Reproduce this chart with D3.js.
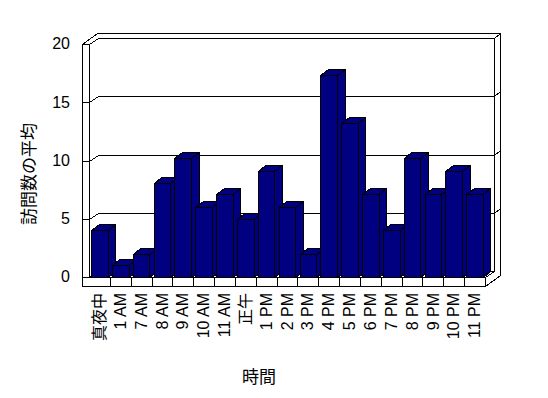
<!DOCTYPE html>
<html>
<head>
<meta charset="utf-8">
<script src="https://cdn.jsdelivr.net/npm/d3@7"></script>
<style>
  body { margin: 0; background: #fff; }
  svg { display: block; }
  text { font-family: "Liberation Sans", "Noto Sans CJK JP", sans-serif; fill: #000; }
</style>
</head>
<body>
<svg id="chart" width="548" height="398"></svg>
<script>
// average visits per hour of day
var categories = ["真夜中", "1 AM", "7 AM", "8 AM", "9 AM", "10 AM", "11 AM", "正午",
  "1 PM", "2 PM", "3 PM", "4 PM", "5 PM", "6 PM", "7 PM", "8 PM", "9 PM", "10 PM", "11 PM"];
var visits = [4, 1, 2, 8.1, 10.2, 6, 7.1, 5, 9.1, 6, 2, 17.3, 13.2, 7.1, 4, 10.2, 7.1, 9.1, 7.1];
var yTicks = [0, 5, 10, 15, 20];
var xTitle = "時間";
var yTitle = "訪問数の平均";

var svg = d3.select("#chart");

var x = d3.scaleBand().domain(categories).range([89, 485]).paddingInner(0.2).paddingOuter(0.1);
var y = d3.scaleLinear().domain([0, 20]).range([277, 44]);

// oblique offsets: wall depth, back wall thickness, bar depth
var wall = { dx: 9, dy: -6 };
var thick = { dx: 6, dy: -5 };
var deep = { dx: 7.5, dy: -6 };

var left = x.range()[0], right = x.range()[1];
var outerLeft = left - 7;
var yTop = y(20), floor = y(0), floorBottom = y(0) + 9;

function px(v) { return Math.round(v) + 0.5; }

function appendPath(onto, pts, closed, fill) {
  var d = "M" + pts.map(function (p) { return px(p[0]) + "," + px(p[1]); }).join("L") + (closed ? "Z" : "");
  onto.append("path")
    .attr("d", d)
    .attr("fill", fill || "none")
    .attr("stroke", "#000")
    .attr("stroke-width", 1)
    .attr("shape-rendering", "crispEdges");
}

var frame = svg.append("g");

// outer silhouette of walls and floor
appendPath(frame, [
  [outerLeft, yTop],
  [outerLeft + wall.dx + thick.dx, yTop + wall.dy + thick.dy],
  [right + wall.dx + thick.dx, yTop + wall.dy + thick.dy],
  [right + wall.dx + thick.dx, floorBottom + wall.dy + thick.dy],
  [right, floorBottom],
  [outerLeft, floorBottom]
], true, "#fff");

// left wall front face and top
appendPath(frame, [[outerLeft, yTop], [left, yTop], [left, floor]]);
appendPath(frame, [[left, yTop], [left + wall.dx, yTop + wall.dy], [right + wall.dx, yTop + wall.dy],
  [right + wall.dx + thick.dx, yTop + wall.dy + thick.dy]]);
appendPath(frame, [[right + wall.dx, yTop + wall.dy], [right + wall.dx, floor + wall.dy]]);

// floor front face and right edge
appendPath(frame, [[outerLeft, floor], [right, floor], [right, floorBottom]]);
appendPath(frame, [[right, floor], [right + wall.dx, floor + wall.dy]]);
appendPath(frame, [[left, floor], [left + wall.dx, floor + wall.dy], [right + wall.dx, floor + wall.dy]]);

// gridlines wrapping the left wall, back wall and its edge
yTicks.filter(function (t) { return t > 0 && t < 20; }).forEach(function (t) {
  var yy = y(t);
  appendPath(frame, [
    [outerLeft, yy], [left, yy],
    [left + wall.dx, yy + wall.dy],
    [right + wall.dx, yy + wall.dy],
    [right + wall.dx + thick.dx, yy + wall.dy + thick.dy]
  ]);
});

// category ticks on the floor front
var gap = (x.step() - x.bandwidth()) / 2;
categories.slice(1).forEach(function (c) {
  var xx = x(c) - gap;
  appendPath(frame, [[xx, floor], [xx, floorBottom]]);
});

// bars, drawn left to right so each front covers the previous side
var bars = svg.append("g");
categories.forEach(function (c, i) {
  var x0 = x(c), x1 = x(c) + x.bandwidth(), yv = y(visits[i]);
  var g = bars.append("g");
  appendPath(g, [[x1, yv], [x1 + deep.dx, yv + deep.dy], [x1 + deep.dx, floor + deep.dy], [x1, floor]], true, "#000080");
  appendPath(g, [[x0, yv], [x0 + deep.dx, yv + deep.dy], [x1 + deep.dx, yv + deep.dy], [x1, yv]], true, "#000080");
  appendPath(g, [[x0, yv], [x1, yv], [x1, floor], [x0, floor]], true, "#000080");
});

// axes (labels only)
var yAxis = svg.append("g")
  .attr("transform", "translate(" + outerLeft + ",0)")
  .call(d3.axisLeft(y).tickValues(yTicks).tickSize(0).tickPadding(12));
yAxis.select(".domain").remove();
yAxis.selectAll("text")
  .attr("dy", "0.3em")
  .style("font-size", "16px")
  .style("font-family", "'Liberation Sans', 'Noto Sans CJK JP', sans-serif");

var xAxis = svg.append("g")
  .attr("transform", "translate(0," + floorBottom + ")")
  .call(d3.axisBottom(x).tickSize(0));
xAxis.select(".domain").remove();
xAxis.selectAll("text")
  .attr("transform", "rotate(-90)")
  .attr("x", -7)
  .attr("y", 0)
  .attr("dy", "0.35em")
  .style("text-anchor", "end")
  .style("font-size", "16px")
  .style("font-family", "'Liberation Sans', 'Noto Sans CJK JP', sans-serif");

svg.append("text")
  .attr("x", 259)
  .attr("y", 377)
  .attr("dy", "0.35em")
  .attr("text-anchor", "middle")
  .style("font-size", "17px")
  .text(xTitle);

svg.append("text")
  .attr("transform", "translate(29,174) rotate(-90)")
  .attr("dy", "0.35em")
  .attr("text-anchor", "middle")
  .style("font-size", "17px")
  .text(yTitle);
</script>
</body>
</html>
